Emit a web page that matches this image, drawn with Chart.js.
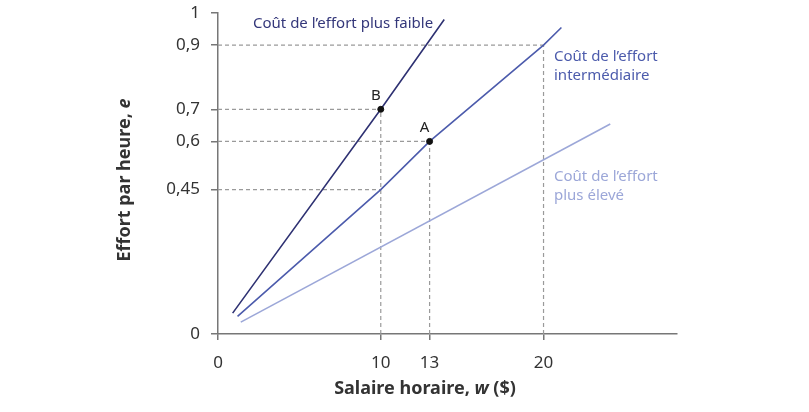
<!DOCTYPE html>
<html>
<head>
<meta charset="utf-8">
<title>Effort et salaire</title>
<script src="https://cdn.jsdelivr.net/npm/chart.js@4.4.1/dist/chart.umd.min.js"></script>
<style>
  html, body { margin: 0; padding: 0; background: #fff; }
  #wrap { width: 809px; height: 412px; }
</style>
</head>
<body>
<div id="wrap"><canvas id="chart" width="809" height="412"></canvas></div>
<script>
// --------------------
// Data
// --------------------
const xTicks = [0, 10, 13, 20];
const yTicks = [0, 0.45, 0.6, 0.7, 0.9, 1];

// effort curves, [w, e]
const lowCost = [[0.9, 0.065], [10, 0.7], [13.9, 0.98]];
const midCost = [[1.2, 0.055], [10, 0.45], [13, 0.6], [20, 0.9], [21.1, 0.955]];
const highCost = [[1.4, 0.037], [24.1, 0.654]];

// labelled points
const pointNames = ["A", "B"];
const pointW = [13, 10];
const pointE = [0.6, 0.7];

// dashed guide lines
const guides = [
  [[0, 0.9], [20, 0.9]],
  [[20, 0], [20, 0.9]],
  [[0, 0.7], [10, 0.7]],
  [[10, 0], [10, 0.7]],
  [[0, 0.6], [13, 0.6]],
  [[13, 0], [13, 0.6]],
  [[0, 0.45], [10, 0.45]]
];

const FONT = "'Noto Sans', 'Open Sans', sans-serif";
const toXY = arr => arr.map(p => ({ x: p[0], y: p[1] }));
const frNum = v => String(v).replace(".", ",");

// --------------------
// Datasets
// --------------------
const datasets = [];

guides.forEach(g => {
  datasets.push({
    data: toXY(g),
    showLine: true,
    borderColor: "#9a9a9a",
    borderWidth: 1.2,
    borderDash: [4, 3],
    pointRadius: 0,
    order: 3
  });
});

[[lowCost, "#2e3172"], [midCost, "#4c5bac"], [highCost, "#9ca7d8"]].forEach(c => {
  datasets.push({
    data: toXY(c[0]),
    showLine: true,
    borderColor: c[1],
    borderWidth: 1.6,
    pointRadius: 0,
    tension: 0,
    order: 2
  });
});

datasets.push({
  data: pointW.map((w, i) => ({ x: w, y: pointE[i] })),
  showLine: false,
  pointRadius: 3,
  pointBackgroundColor: "#111",
  pointBorderColor: "#111",
  order: 1
});

// --------------------
// Text on top of the chart
// --------------------
function drawParts(ctx, parts, cx, cy) {
  let total = 0;
  parts.forEach(p => { ctx.font = p.font; total += ctx.measureText(p.text).width; });
  let x = cx - total / 2;
  parts.forEach(p => {
    ctx.font = p.font;
    ctx.fillText(p.text, x, cy);
    x += ctx.measureText(p.text).width;
  });
}

const textPlugin = {
  id: "textPlugin",
  afterDraw(chart) {
    const ctx = chart.ctx;
    const xs = chart.scales.x;
    const ys = chart.scales.y;
    ctx.save();
    ctx.textBaseline = "middle";
    ctx.textAlign = "left";

    // curve labels
    ctx.font = "15px " + FONT;
    ctx.fillStyle = "#34377a";
    ctx.fillText("Coût de l’effort plus faible", 253, 24);
    ctx.fillStyle = "#4c5bac";
    ctx.fillText("Coût de l’effort", 554, 57);
    ctx.fillText("intermédiaire", 554, 76);
    ctx.fillStyle = "#9ca7d8";
    ctx.fillText("Coût de l’effort", 554, 177);
    ctx.fillText("plus élevé", 554, 196);

    // point names
    ctx.textAlign = "center";
    ctx.fillStyle = "#222";
    ctx.font = "15px " + FONT;
    pointNames.forEach((n, i) => {
      ctx.fillText(n, xs.getPixelForValue(pointW[i]) - 5, ys.getPixelForValue(pointE[i]) - 14);
    });

    // axis titles
    ctx.textAlign = "left";
    ctx.fillStyle = "#333";
    const b = "bold 18px " + FONT;
    const bi = "italic bold 18px " + FONT;
    drawParts(ctx, [
      { text: "Salaire horaire, ", font: b },
      { text: "w", font: bi },
      { text: " ($)", font: b }
    ], 425, 389);

    ctx.translate(125, 180);
    ctx.rotate(-Math.PI / 2);
    drawParts(ctx, [
      { text: "Effort par heure, ", font: b },
      { text: "e", font: bi }
    ], 0, 0);
    ctx.restore();
  }
};

// --------------------
// Chart
// --------------------
new Chart(document.getElementById("chart"), {
  type: "scatter",
  data: { datasets: datasets },
  options: {
    responsive: false,
    animation: false,
    layout: {
      autoPadding: false,
      padding: { left: 0, right: 132, top: 13, bottom: 0 }
    },
    plugins: {
      legend: { display: false },
      tooltip: { enabled: false }
    },
    scales: {
      x: {
        type: "linear",
        min: 0,
        max: 28.2,
        afterBuildTicks: s => { s.ticks = xTicks.map(v => ({ value: v })); },
        afterFit: s => {
          s.height = 78;
          s.paddingLeft = 0; s.paddingRight = 0; s.paddingTop = 0; s.paddingBottom = 0;
        },
        border: { display: true, color: "#777", width: 1.5 },
        grid: { drawOnChartArea: false, drawTicks: true, tickLength: 6, color: "#777", lineWidth: 1.5 },
        ticks: {
          autoSkip: false,
          maxRotation: 0,
          padding: 13,
          color: "#333",
          font: { family: FONT, size: 17 },
          callback: v => frNum(v)
        }
      },
      y: {
        type: "linear",
        min: 0,
        max: 1,
        afterBuildTicks: s => { s.ticks = yTicks.map(v => ({ value: v })); },
        afterFit: s => {
          s.width = 218;
          s.paddingLeft = 0; s.paddingRight = 0; s.paddingTop = 0; s.paddingBottom = 0;
        },
        border: { display: true, color: "#777", width: 1.5 },
        grid: { drawOnChartArea: false, drawTicks: true, tickLength: 7, color: "#777", lineWidth: 1.5 },
        ticks: {
          autoSkip: false,
          padding: 11,
          color: "#333",
          font: { family: FONT, size: 17 },
          callback: v => frNum(v)
        }
      }
    }
  },
  plugins: [textPlugin]
});
</script>
</body>
</html>
